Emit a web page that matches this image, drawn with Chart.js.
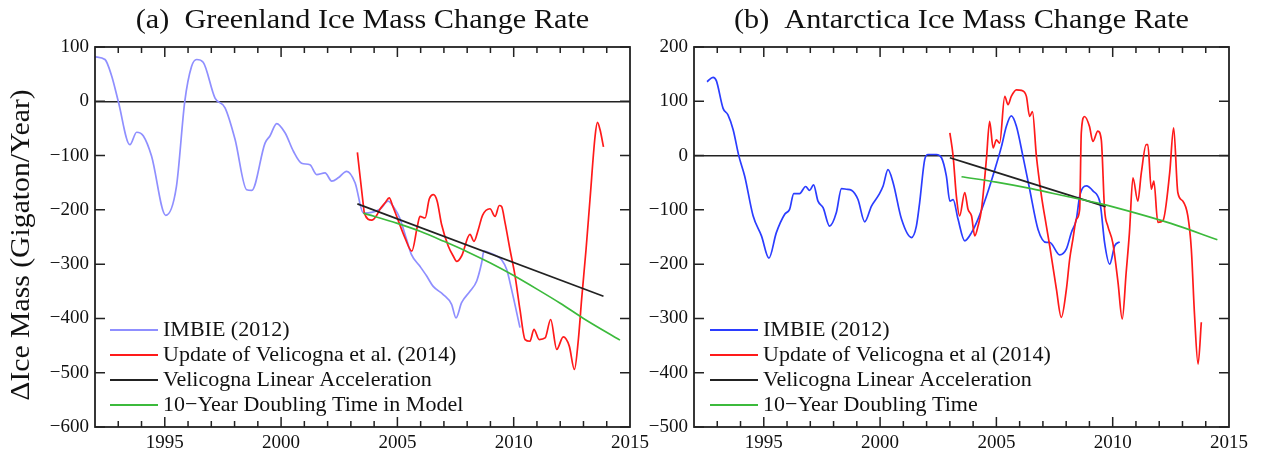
<!DOCTYPE html>
<html>
<head>
<meta charset="utf-8">
<script src="https://cdn.jsdelivr.net/npm/chart.js@4.4.1/dist/chart.umd.min.js"></script>
<style>
  html, body { margin: 0; padding: 0; background: #fff; }
  #wrap { position: relative; width: 1262px; height: 457px; }
  canvas { position: absolute; top: 0; }
  #greenland { left: 0; }
  #antarctica { left: 640px; }
</style>
</head>
<body>
<div id="wrap">
  <canvas id="greenland" width="660" height="457"></canvas>
  <canvas id="antarctica" width="622" height="457"></canvas>
</div>
<script>
// Greenland (a)
const imbieGrYears = [1992.0, 1992.43, 1992.72, 1993.0, 1993.5, 1993.79, 1994.08, 1994.43, 1995.04, 1995.5, 1995.86, 1996.15, 1996.37, 1996.65, 1997.16, 1997.59, 1998.02, 1998.52, 1998.74, 1999.31, 1999.52, 1999.81, 2000.17, 2000.53, 2000.88, 2001.24, 2001.53, 2001.89, 2002.18, 2002.46, 2002.82, 2003.18, 2003.54, 2004.25, 2004.6, 2004.9, 2005.1, 2005.4, 2005.6, 2005.97, 2006.26, 2006.54, 2006.97, 2007.33, 2007.52, 2007.76, 2008.12, 2008.41, 2008.62, 2008.72, 2008.9, 2009.27, 2009.48, 2009.7, 2009.91, 2010.27];
const imbieGrRate = [82, 77, 46, 0, -80, -57, -64, -101, -210, -157, 0, 64, 77, 72, 6, -12, -70, -163, -164, -77, -64, -41, -58, -92, -114, -117, -135, -132, -147, -141, -129, -150, -206, -199, -184, -199, -215, -255, -282, -304, -322, -341, -356, -374, -399, -371, -350, -331, -298, -276, -278, -285, -292, -310, -347, -417];

const velGrYears = [2003.28, 2003.54, 2003.58, 2003.9, 2004.11, 2004.25, 2004.47, 2004.65, 2004.8, 2004.97, 2005.33, 2005.62, 2005.86, 2005.97, 2006.19, 2006.37, 2006.55, 2006.71, 2006.9, 2007.19, 2007.4, 2007.55, 2007.76, 2008.12, 2008.29, 2008.48, 2008.66, 2008.98, 2009.2, 2009.38, 2009.48, 2009.63, 2009.84, 2010.06, 2010.27, 2010.49, 2010.7, 2010.87, 2011.1, 2011.35, 2011.59, 2011.85, 2012.13, 2012.39, 2012.61, 2012.78, 2012.92, 2013.11, 2013.28, 2013.5, 2013.6, 2013.71, 2013.86];
const velGrRate = [-94, -193, -206, -219, -210, -199, -187, -178, -193, -212, -252, -276, -230, -212, -215, -180, -172, -184, -227, -267, -285, -295, -285, -245, -258, -236, -210, -198, -212, -192, -194, -224, -273, -322, -384, -439, -442, -420, -439, -436, -402, -457, -434, -451, -494, -439, -365, -273, -181, -64, -39, -52, -84];

const linGrYears = [2003.28, 2013.86];
const linGrRate = [-189, -359];

const dblGrYears = [2003.54, 2005, 2006, 2007, 2008, 2009, 2010, 2011, 2012, 2013, 2014.57];
const dblGrRate = [-206, -225, -240, -258, -277, -298, -321, -346, -372, -400, -440];

// Antarctica (b)
const imbieAnYears = [1992.56, 1992.82, 1992.96, 1993.25, 1993.46, 1993.68, 1993.93, 1994.18, 1994.54, 1994.9, 1995.22, 1995.54, 1995.9, 1996.11, 1996.29, 1996.54, 1996.8, 1996.97, 1997.14, 1997.33, 1997.55, 1997.83, 1998.12, 1998.34, 1998.55, 1998.77, 1999.05, 1999.34, 1999.63, 1999.95, 2000.13, 2000.34, 2000.56, 2000.92, 2001.35, 2001.56, 2001.7, 2001.92, 2002.06, 2002.42, 2002.64, 2002.85, 2003.0, 2003.14, 2003.35, 2003.64, 2003.93, 2004.21, 2004.57, 2004.93, 2005.22, 2005.43, 2005.64, 2005.86, 2006.14, 2006.43, 2006.79, 2007.15, 2007.29, 2007.72, 2008.01, 2008.22, 2008.44, 2008.58, 2008.87, 2009.15, 2009.44, 2009.5, 2009.65, 2009.87, 2010.09, 2010.3];
const imbieAnRate = [136, 144, 138, 87, 75, 48, -1, -38, -111, -148, -189, -142, -108, -99, -70, -70, -57, -64, -54, -84, -96, -130, -105, -61, -62, -64, -81, -122, -93, -72, -56, -26, -50, -117, -151, -130, -87, -7, 2, 2, -4, -38, -84, -81, -117, -157, -142, -117, -75, -26, 17, 54, 73, 54, -1, -62, -136, -160, -160, -183, -172, -142, -117, -75, -56, -65, -84, -100, -160, -200, -166, -159];

const velAnYears = [2003.0, 2003.14, 2003.28, 2003.42, 2003.64, 2003.78, 2003.93, 2004.07, 2004.21, 2004.36, 2004.57, 2004.71, 2004.86, 2005.0, 2005.14, 2005.36, 2005.5, 2005.64, 2005.86, 2006.08, 2006.29, 2006.43, 2006.55, 2006.72, 2006.94, 2007.15, 2007.29, 2007.58, 2007.79, 2008.01, 2008.15, 2008.29, 2008.44, 2008.58, 2008.65, 2008.79, 2009.0, 2009.15, 2009.36, 2009.51, 2009.65, 2009.79, 2010.0, 2010.23, 2010.41, 2010.58, 2010.72, 2010.87, 2011.08, 2011.23, 2011.44, 2011.51, 2011.66, 2011.77, 2011.94, 2012.16, 2012.45, 2012.62, 2012.8, 2013.02, 2013.23, 2013.38, 2013.52, 2013.67, 2013.81];
const velAnRate = [42, -1, -75, -111, -68, -99, -111, -148, -130, -99, -7, 63, 14, 29, 23, 109, 94, 109, 121, 120, 109, 72, 81, -1, -75, -130, -166, -246, -298, -246, -191, -154, -117, -99, 42, 72, 54, 26, 45, 29, -99, -130, -160, -234, -301, -215, -142, -41, -84, -32, 20, 20, -62, -47, -123, -120, -32, 51, -68, -84, -111, -172, -295, -384, -307];

const linAnYears = [2003.0, 2009.7];
const linAnRate = [-4, -94];

const dblAnYears = [2003.5, 2005, 2006.5, 2008, 2009.5, 2011, 2012.5, 2014.5];
const dblAnRate = [-39, -49, -61, -75, -89, -106, -125, -155];

// axis ticks
const xTickLabels = [1995, 2000, 2005, 2010, 2015];
const yTicksGr = [-600, -500, -400, -300, -200, -100, 0, 100];
const yTicksAn = [-500, -400, -300, -200, -100, 0, 100, 200];

const SERIF = "'Liberation Serif', 'DejaVu Serif', serif";

function pts(xs, ys) {
    return xs.map((v, i) => ({ x: v, y: ys[i] }));
}

function series(label, xs, ys, color, order) {
    return {
        label: label,
        data: pts(xs, ys),
        borderColor: color,
        backgroundColor: color,
        borderWidth: 1.7,
        pointRadius: 0,
        cubicInterpolationMode: 'monotone',
        order: order
    };
}

function minus(v) {
    return String(v).replace('-', '\u2212');
}

// text drawn a little wider than the plain font
function wideText(ctx, text, x, y, sx) {
    ctx.save();
    ctx.translate(x, y);
    ctx.scale(sx, 1);
    ctx.fillText(text, 0, 0);
    ctx.restore();
}

// frame with inward ticks, titles and the boxed-in legend
const decor = {
    id: 'decor',
    afterDatasetsDraw(chart, args, opts) {
        const ctx = chart.ctx;
        const a = chart.chartArea;
        const x = chart.scales.x;
        const y = chart.scales.y;
        ctx.save();
        ctx.strokeStyle = '#222';
        ctx.lineWidth = 1.5;
        ctx.beginPath();
        for (let yr = x.min + 1; yr < x.max; yr++) {
            const px = x.getPixelForValue(yr);
            const len = yr % 5 === 0 ? 10 : 6;
            ctx.moveTo(px, a.bottom);
            ctx.lineTo(px, a.bottom - len);
            ctx.moveTo(px, a.top);
            ctx.lineTo(px, a.top + len);
        }
        y.ticks.forEach(t => {
            const py = y.getPixelForValue(t.value);
            ctx.moveTo(a.left, py);
            ctx.lineTo(a.left + 10, py);
            ctx.moveTo(a.right, py);
            ctx.lineTo(a.right - 10, py);
        });
        ctx.stroke();
        ctx.lineWidth = 1.8;
        ctx.strokeRect(a.left, a.top, a.right - a.left, a.bottom - a.top);

        // title
        ctx.fillStyle = '#111';
        ctx.font = '28px ' + SERIF;
        ctx.textAlign = 'center';
        ctx.textBaseline = 'middle';
        wideText(ctx, opts.title, (a.left + a.right) / 2, 21, 1.08);

        // y-axis title
        if (opts.yTitle) {
            ctx.save();
            ctx.translate(22, 245);
            ctx.rotate(-Math.PI / 2);
            ctx.font = '27px ' + SERIF;
            wideText(ctx, opts.yTitle, 0, 0, 1.1);
            ctx.restore();
        }

        // legend
        ctx.font = '22px ' + SERIF;
        ctx.textAlign = 'left';
        chart.data.datasets.forEach((ds, i) => {
            const ly = opts.legendY + i * 25;
            ctx.strokeStyle = ds.borderColor;
            ctx.lineWidth = 1.8;
            ctx.beginPath();
            ctx.moveTo(opts.legendX, ly);
            ctx.lineTo(opts.legendX + 48, ly);
            ctx.stroke();
            ctx.fillStyle = '#111';
            ctx.fillText(ds.label, opts.legendX + 53, ly);
        });
        ctx.restore();
    }
};

function makeChart(id, datasets, yMin, yMax, yTicks, axisWidth, padRight, decorOpts) {
    const ctx = document.getElementById(id).getContext('2d');
    return new Chart(ctx, {
        type: 'line',
        data: { datasets: datasets },
        options: {
            responsive: false,
            animation: false,
            devicePixelRatio: 1,
            layout: { padding: { top: 47, right: padRight, left: 0, bottom: 0 } },
            plugins: {
                legend: { display: false },
                tooltip: { enabled: false },
                decor: decorOpts
            },
            scales: {
                x: {
                    type: 'linear',
                    min: 1992,
                    max: 2015,
                    afterBuildTicks: scale => { scale.ticks = xTickLabels.map(v => ({ value: v })); },
                    afterFit: scale => {
                        scale.height = 30;
                        scale.paddingLeft = 0;
                        scale.paddingRight = 0;
                    },
                    border: { display: false },
                    grid: { display: false, drawTicks: false },
                    ticks: {
                        padding: 5,
                        color: '#111',
                        font: { family: SERIF, size: 19 },
                        maxRotation: 0,
                        callback: v => String(v)
                    }
                },
                y: {
                    min: yMin,
                    max: yMax,
                    afterBuildTicks: scale => { scale.ticks = yTicks.map(v => ({ value: v })); },
                    afterFit: scale => {
                        scale.width = axisWidth;
                        scale.paddingTop = 0;
                        scale.paddingBottom = 0;
                    },
                    border: { display: false },
                    grid: {
                        drawTicks: false,
                        lineWidth: 1.5,
                        color: c => (c.tick && c.tick.value === 0) ? '#222' : 'rgba(0,0,0,0)'
                    },
                    ticks: {
                        padding: 6,
                        color: '#111',
                        font: { family: SERIF, size: 19 },
                        callback: v => minus(v)
                    }
                }
            }
        },
        plugins: [decor]
    });
}

makeChart('greenland', [
    series('IMBIE (2012)', imbieGrYears, imbieGrRate, '#8f8fff', 4),
    series('Update of Velicogna et al. (2014)', velGrYears, velGrRate, '#ff1a1a', 3),
    series('Velicogna Linear Acceleration', linGrYears, linGrRate, '#222222', 2),
    series('10\u2212Year Doubling Time in Model', dblGrYears, dblGrRate, '#3cba3c', 1)
], -600, 100, yTicksGr, 95, 30, {
    title: '(a)  Greenland Ice Mass Change Rate',
    yTitle: '\u0394Ice Mass (Gigaton/Year)',
    legendX: 110,
    legendY: 330
});

makeChart('antarctica', [
    series('IMBIE (2012)', imbieAnYears, imbieAnRate, '#2b3dff', 4),
    series('Update of Velicogna et al (2014)', velAnYears, velAnRate, '#ff1a1a', 3),
    series('Velicogna Linear Acceleration', linAnYears, linAnRate, '#222222', 2),
    series('10\u2212Year Doubling Time', dblAnYears, dblAnRate, '#3cba3c', 1)
], -500, 200, yTicksAn, 54, 33, {
    title: '(b)  Antarctica Ice Mass Change Rate',
    yTitle: null,
    legendX: 70,
    legendY: 330
});
</script>
</body>
</html>
